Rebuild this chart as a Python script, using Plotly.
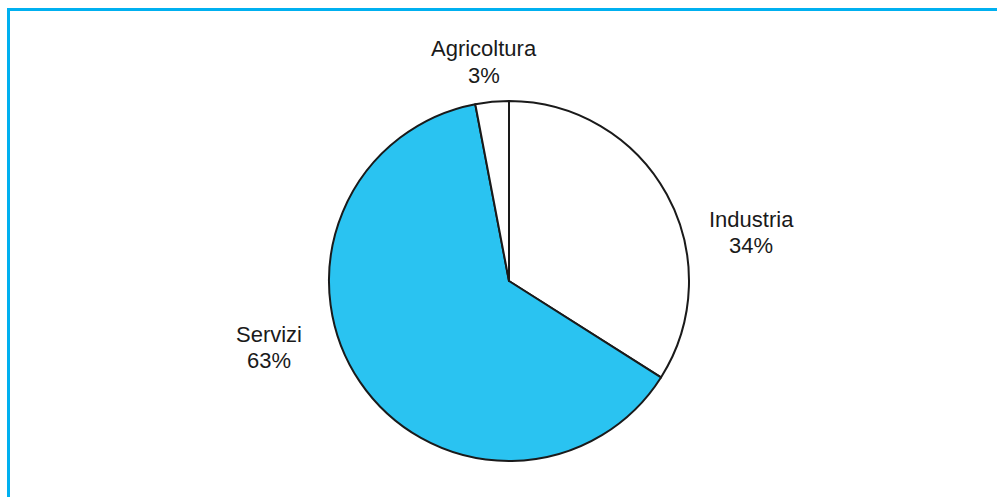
import plotly.graph_objects as go

labels = ["Industria", "Servizi", "Agricoltura"]
values = [34, 63, 3]
colors = ["#FFFFFF", "#2AC3F1", "#FFFFFF"]
label_px = [(751, 232), (269, 347), (484, 62)]

W, H = 997, 497
cx, cy, r = 509, 281, 180
line_gap = 26

fig = go.Figure(go.Pie(
    labels=labels, values=values, sort=False, direction="clockwise", rotation=0,
    marker=dict(colors=colors, line=dict(color="#1a1a1a", width=2)),
    textinfo="none", hoverinfo="label+percent", showlegend=False,
    domain=dict(x=[(cx - r) / W, (cx + r) / W], y=[1 - (cy + r) / H, 1 - (cy - r) / H]),
))

font = dict(family="Liberation Sans, Arial, sans-serif", size=22, color="#1a1a1a")
for lab, val, (px, py) in zip(labels, values, label_px):
    for txt, yy in ((lab, py - line_gap / 2), (f"{val}%", py + line_gap / 2)):
        fig.add_annotation(x=px / W, y=1 - yy / H, xref="paper", yref="paper",
                           xanchor="center", yanchor="middle",
                           text=txt, showarrow=False, font=font)

fig.add_shape(type="line", xref="paper", yref="paper", x0=7 / W, x1=1.01, y0=1 - 9.5 / H, y1=1 - 9.5 / H,
              line=dict(color="#00B0F0", width=3))
fig.add_shape(type="line", xref="paper", yref="paper", x0=8.5 / W, x1=8.5 / W, y0=1 - 8 / H, y1=-0.01,
              line=dict(color="#00B0F0", width=3))

fig.update_layout(width=W, height=H, margin=dict(l=0, r=0, t=0, b=0),
                  paper_bgcolor="white", plot_bgcolor="white")
fig.write_html("out.html")
